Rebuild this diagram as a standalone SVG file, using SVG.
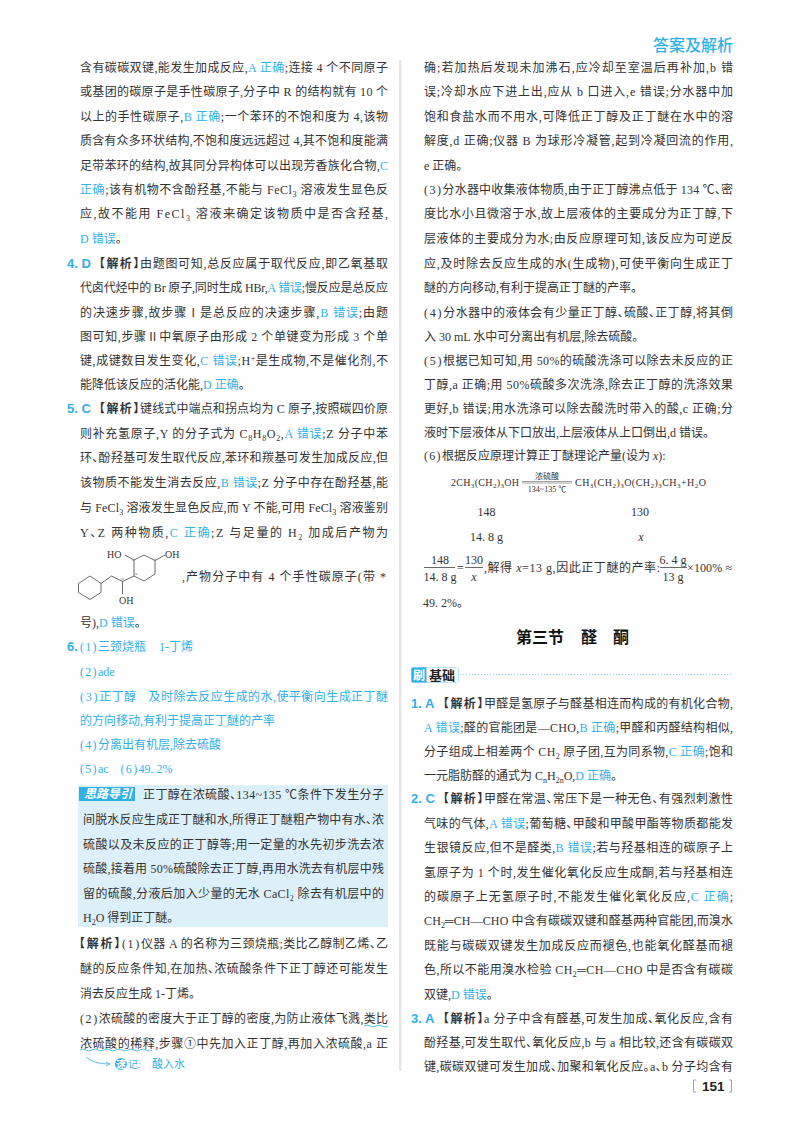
<svg xmlns="http://www.w3.org/2000/svg" width="800" height="1132" viewBox="0 0 800 1132">
<style>
text{font-family:"Liberation Serif","Noto Sans CJK SC",serif;font-size:12px;fill:#333;font-feature-settings:"halt"}
.b,tspan.b{fill:#2fb1e8}
.s{font-size:8px;baseline-shift:-2.5px}
.u{font-size:8px;baseline-shift:4px}
.i{font-style:italic}
.p{letter-spacing:1.3px}
.n{font-family:"Liberation Sans","Noto Sans CJK SC",sans-serif;font-weight:700;font-size:13px;fill:#2fb1e8}
.j{font-family:"Liberation Sans","Noto Sans CJK SC",sans-serif;font-weight:700;font-size:12px;fill:#333;letter-spacing:1.4px}
.e{font-size:10px}
.e .s{font-size:7px;baseline-shift:-2px}
.m{font-size:8px}
.a{font-size:10px}
.st{font-size:7px;fill:#888}
.ln{fill:none;stroke:#444;stroke-width:.8}
.w{fill:none;stroke:#2fb1e8;stroke-width:.8}
</style>
<rect width="800" height="1132" fill="#fff"/>
<rect x="399" y="60" width="2.5" height="1011" fill="#e6e6e6"/>
<text id="header" x="653" y="51" style="font-family:'Noto Sans CJK SC',sans-serif;font-size:16px;fill:#2fb1e8;font-weight:500">答案及解析</text>

<g id="left-column">
<text x="80" y="71.500" textLength="308">含有碳碳双键,能发生加成反应,<tspan class="b">A 正确</tspan>;连接 4 个不同原子</text>
<text x="80" y="95.500" textLength="308">或基团的碳原子是手性碳原子,分子中 R 的结构就有 10 个</text>
<text x="80" y="120.500" textLength="308">以上的手性碳原子,<tspan class="b">B 正确</tspan>;一个苯环的不饱和度为 4,该物</text>
<text x="80" y="144.500" textLength="308">质含有众多环状结构,不饱和度远远超过 4,其不饱和度能满</text>
<text x="80" y="169.500" textLength="308">足带苯环的结构,故其同分异构体可以出现芳香族化合物,<tspan class="b">C</tspan></text>
<text x="80" y="193.500" textLength="308"><tspan class="b">正确</tspan>;该有机物不含酚羟基,不能与 FeCl<tspan class="s">3</tspan> 溶液发生显色反</text>
<text x="80" y="217.500" textLength="308">应,故不能用 FeCl<tspan class="s">3</tspan> 溶液来确定该物质中是否含羟基,</text>
<text x="80" y="242.500"><tspan class="b">D 错误</tspan>。</text>

<text class="n" x="67" y="267.500">4. D</text><text class="j" x="99" y="267.500">【解析】</text>
<text x="140" y="267.500" textLength="248">由题图可知,总反应属于取代反应,即乙氧基取</text>
<text x="80" y="291.500" textLength="308">代卤代烃中的 Br 原子,同时生成 HBr,<tspan class="b">A 错误</tspan>;慢反应是总反应</text>
<text x="80" y="316.500" textLength="308">的决速步骤,故步骤Ⅰ是总反应的决速步骤,<tspan class="b">B 错误</tspan>;由题</text>
<text x="80" y="340.500" textLength="308">图可知,步骤Ⅱ中氧原子由形成 2 个单键变为形成 3 个单</text>
<text x="80" y="364.500" textLength="308">键,成键数目发生变化,<tspan class="b">C 错误</tspan>;H<tspan class="u">+</tspan>是生成物,不是催化剂,不</text>
<text x="80" y="388.500">能降低该反应的活化能,<tspan class="b">D 正确</tspan>。</text>

<text class="n" x="67" y="412.500">5. C</text><text class="j" x="99" y="412.500">【解析】</text>
<text x="140" y="412.500" textLength="248">键线式中端点和拐点均为 C 原子,按照碳四价原</text>
<text x="80" y="437.500" textLength="308">则补充氢原子,Y 的分子式为 C<tspan class="s">8</tspan>H<tspan class="s">8</tspan>O<tspan class="s">2</tspan>,<tspan class="b">A 错误</tspan>;Z 分子中苯</text>
<text x="80" y="461.500" textLength="308">环、酚羟基可发生取代反应,苯环和羰基可发生加成反应,但</text>
<text x="80" y="486.500" textLength="308">该物质不能发生消去反应,<tspan class="b">B 错误</tspan>;Z 分子中存在酚羟基,能</text>
<text x="80" y="511.500" textLength="308">与 FeCl<tspan class="s">3</tspan> 溶液发生显色反应,而 Y 不能,可用 FeCl<tspan class="s">3</tspan> 溶液鉴别</text>
<text x="80" y="536.500" textLength="308">Y、Z 两种物质,<tspan class="b">C 正确</tspan>;Z 与足量的 H<tspan class="s">2</tspan> 加成后产物为</text>
<g id="molecule">
<path class="ln" d="M78.500 583.500L90 576L101 583.500V592.500L90 599.500L78.500 592.500ZM101 583.500L111.500 576L122.500 581.500L134 576V560L144 555L155 560.500V574L144 581L134 576M122.500 581.500V594M134 560L125 555M155 560.500L165 555"/>
<text class="a" x="107" y="558">HO</text>
<text class="a" x="165" y="558">OH</text>
<text class="a" x="119" y="603.500">OH</text>
<text class="st" x="131.500" y="563">*</text>
<text class="st" x="153" y="563">*</text>
<text class="st" x="134.500" y="577">*</text>
<text class="st" x="120.500" y="582">*</text>
</g>
<text x="182" y="580.500" textLength="204">,产物分子中有 4 个手性碳原子(带 *</text>
<text x="80" y="626.500">号),<tspan class="b">D 错误</tspan>。</text>

<text class="n" x="67" y="650.500">6.</text>
<text class="b" x="80" y="650.500"><tspan class="p">(1)</tspan>三颈烧瓶<tspan dx="13">1-丁烯</tspan></text>
<text class="b" x="80" y="675.500"><tspan class="p">(2)</tspan>ade</text>
<text class="b" x="80" y="700.500" textLength="308"><tspan class="p">(3)</tspan>正丁醇<tspan dx="12">及时除去反应生成的水,使平衡向生成正丁醚</tspan></text>
<text class="b" x="80" y="724.500">的方向移动,有利于提高正丁醚的产率</text>
<text class="b" x="80" y="748.500"><tspan class="p">(4)</tspan>分离出有机层,除去硫酸</text>
<text class="b" x="80" y="772.500"><tspan class="p">(5)</tspan>ac<tspan class="p" dx="12">(6)</tspan>49. 2%</text>

<g id="hint-box">
<rect x="78" y="785" width="310" height="142" fill="#dcf0fa"/>
<rect x="79" y="787" width="56" height="14" fill="#2fb1e8"/>
<text x="84" y="798" style="font-family:'Noto Sans CJK SC',sans-serif;font-size:12px;font-weight:700;font-style:italic;fill:#fff">思路导引</text>
<text x="143" y="798.500" textLength="241">正丁醇在浓硫酸、134~135 ℃条件下发生分子</text>
<text x="83" y="823.500" textLength="301">间脱水反应生成正丁醚和水,所得正丁醚粗产物中有水、浓</text>
<text x="83" y="848.500" textLength="301">硫酸以及未反应的正丁醇等;用一定量的水先初步洗去浓</text>
<text x="83" y="872.500" textLength="301">硫酸,接着用 50%硫酸除去正丁醇,再用水洗去有机层中残</text>
<text x="83" y="897.500" textLength="301">留的硫酸,分液后加入少量的无水 CaCl<tspan class="s">2</tspan> 除去有机层中的</text>
<text x="83" y="921.500">H<tspan class="s">2</tspan>O 得到正丁醚。</text>
</g>

<text x="79" y="947.500" textLength="309"><tspan class="j">【解析】</tspan><tspan class="p">(1)</tspan>仪器 A 的名称为三颈烧瓶;类比乙醇制乙烯、乙</text>
<text x="80" y="972.500" textLength="308">醚的反应条件知,在加热、浓硫酸条件下正丁醇还可能发生</text>
<text x="80" y="997.500">消去反应生成 1-丁烯。</text>
<text x="80" y="1022.500" textLength="308"><tspan class="p">(2)</tspan>浓硫酸的密度大于正丁醇的密度,为防止液体飞溅,类比</text>
<text x="80" y="1047.500" textLength="308">浓硫酸的稀释,步骤①中先加入正丁醇,再加入浓硫酸,a 正</text>
<g id="note">
<path class="w" d="M364 1026q3 -2 6 0t6 0t6 0t6 0"/>
<path class="w" d="M80 1050q3 -2 6 0t6 0t6 0t6 0t6 0t6 0t6 0t6 0t6 0t6 0t6 0t6 0"/>
<path class="w" d="M86 1057Q94 1064 109 1064M106 1062L110 1064L106 1066"/>
<circle cx="121" cy="1064" r="6" fill="#2fb1e8"/>
<text x="116" y="1068" style="font-size:10px;fill:#fff;font-weight:700">速</text>
<text class="b" x="128" y="1068" style="font-size:10px">记:</text>
<text class="b" x="152" y="1068" style="font-size:11px">酸入水</text>
</g>
</g>

<g id="right-column">
<text x="424" y="71.500" textLength="309">确;若加热后发现未加沸石,应冷却至室温后再补加,b 错</text>
<text x="424" y="95.500" textLength="309">误;冷却水应下进上出,应从 b 口进入,e 错误;分水器中加</text>
<text x="424" y="120.500" textLength="309">饱和食盐水而不用水,可降低正丁醇及正丁醚在水中的溶</text>
<text x="424" y="144.500" textLength="309">解度,d 正确;仪器 B 为球形冷凝管,起到冷凝回流的作用,</text>
<text x="424" y="169.500">e 正确。</text>
<text x="424" y="193.500" textLength="309"><tspan class="p">(3)</tspan>分水器中收集液体物质,由于正丁醇沸点低于 134 ℃、密</text>
<text x="424" y="217.500" textLength="309">度比水小且微溶于水,故上层液体的主要成分为正丁醇,下</text>
<text x="424" y="242.500" textLength="309">层液体的主要成分为水;由反应原理可知,该反应为可逆反</text>
<text x="424" y="267.500" textLength="309">应,及时除去反应生成的水(生成物),可使平衡向生成正丁</text>
<text x="424" y="291.500">醚的方向移动,有利于提高正丁醚的产率。</text>
<text x="424" y="316.500" textLength="309"><tspan class="p">(4)</tspan>分水器中的液体会有少量正丁醇、硫酸、正丁醇,将其倒</text>
<text x="424" y="340.500">入 30 mL 水中可分离出有机层,除去硫酸。</text>
<text x="424" y="364.500" textLength="309"><tspan class="p">(5)</tspan>根据已知可知,用 50%的硫酸洗涤可以除去未反应的正</text>
<text x="424" y="388.500" textLength="309">丁醇,a 正确;用 50%硫酸多次洗涤,除去正丁醇的洗涤效果</text>
<text x="424" y="412.500" textLength="309">更好,b 错误;用水洗涤可以除去酸洗时带入的酸,c 正确;分</text>
<text x="424" y="436.500">液时下层液体从下口放出,上层液体从上口倒出,d 错误。</text>
<text x="424" y="459.500"><tspan class="p">(6)</tspan>根据反应原理计算正丁醚理论产量(设为 <tspan class="i">x</tspan>):</text>

<g id="equation">
<text class="e" x="451" y="486" textLength="68">2CH<tspan class="s">3</tspan>(CH<tspan class="s">2</tspan>)<tspan class="s">3</tspan>OH</text>
<path class="ln" style="stroke-width:.5" d="M522 481.500H572M522 483H572"/>
<text class="m" x="547" y="479" text-anchor="middle">浓硫酸</text>
<text class="m" x="547" y="492" text-anchor="middle">134~135 ℃</text>
<text class="e" x="575" y="486" textLength="131">CH<tspan class="s">3</tspan>(CH<tspan class="s">2</tspan>)<tspan class="s">3</tspan>O(CH<tspan class="s">2</tspan>)<tspan class="s">3</tspan>CH<tspan class="s">3</tspan>+H<tspan class="s">2</tspan>O</text>
<text x="486.500" y="516" text-anchor="middle">148</text>
<text x="640" y="516" text-anchor="middle">130</text>
<text x="486.500" y="541" text-anchor="middle">14. 8 g</text>
<text class="i" x="641" y="541" text-anchor="middle">x</text>
<text x="440" y="564" text-anchor="middle">148</text>
<text x="440" y="581" text-anchor="middle">14. 8 g</text>
<path class="ln" d="M424 567.500H455M465 567.500H483M660 567.500H687"/>
<text x="457" y="572">=</text>
<text x="474" y="564" text-anchor="middle">130</text>
<text class="i" x="474" y="581" text-anchor="middle">x</text>
<text x="484" y="572" textLength="176">,解得 <tspan class="i">x</tspan>=13 g,因此正丁醚的产率:</text>
<text x="673" y="564" text-anchor="middle">6. 4 g</text>
<text x="673" y="581" text-anchor="middle">13 g</text>
<text x="687" y="572" textLength="45">×100% ≈</text>
<text x="423" y="606.500">49. 2%。</text>
</g>

<g id="section-title" style="font-weight:700">
<text x="516" y="643" style="font-family:'Noto Sans CJK SC',sans-serif;font-size:16px;font-weight:700;fill:#111">第三节</text>
<text x="581" y="643" style="font-family:'Noto Sans CJK SC',sans-serif;font-size:16px;font-weight:700;fill:#111">醛</text>
<text x="613" y="643" style="font-family:'Noto Sans CJK SC',sans-serif;font-size:16px;font-weight:700;fill:#111">酮</text>
</g>
<g id="section-tag">
<rect x="411.500" y="667.500" width="47" height="15" rx="2" fill="#fff" stroke="#a8dcf3" stroke-width=".8"/>
<rect x="411.500" y="667.500" width="15" height="15" fill="#2fb1e8"/>
<text x="413" y="679.500" style="font-family:'Noto Sans CJK SC',sans-serif;font-size:12px;font-weight:700;fill:#fff">刷</text>
<text x="429" y="679.500" style="font-family:'Noto Sans CJK SC',sans-serif;font-size:13px;font-weight:700;fill:#222">基础</text>
<path d="M460 674.500H731" fill="none" stroke="#8fd3f1" stroke-width="1" stroke-dasharray="1 2"/>
</g>

<text class="n" x="411" y="707.500">1. A</text><text class="j" x="443" y="707.500">【解析】</text>
<text x="484" y="707.500" textLength="249">甲醛是氢原子与醛基相连而构成的有机化合物,</text>
<text x="424" y="731.500" textLength="309"><tspan class="b">A 错误</tspan>;醛的官能团是—CHO,<tspan class="b">B 正确</tspan>;甲醛和丙醛结构相似,</text>
<text x="424" y="755.500" textLength="309">分子组成上相差两个 CH<tspan class="s">2</tspan> 原子团,互为同系物,<tspan class="b">C 正确</tspan>;饱和</text>
<text x="424" y="779.500">一元脂肪醛的通式为 C<tspan class="s">n</tspan>H<tspan class="s">2n</tspan>O,<tspan class="b">D 正确</tspan>。</text>

<text class="n" x="411" y="802.500">2. C</text><text class="j" x="443" y="802.500">【解析】</text>
<text x="484" y="802.500" textLength="249">甲醛在常温、常压下是一种无色、有强烈刺激性</text>
<text x="424" y="827.500" textLength="309">气味的气体,<tspan class="b">A 错误</tspan>;葡萄糖、甲酸和甲酸甲酯等物质都能发</text>
<text x="424" y="851.500" textLength="309">生银镜反应,但不是醛类,<tspan class="b">B 错误</tspan>;若与羟基相连的碳原子上</text>
<text x="424" y="876.500" textLength="309">氢原子为 1 个时,发生催化氧化反应生成酮,若与羟基相连</text>
<text x="424" y="900.500" textLength="309">的碳原子上无氢原子时,不能发生催化氧化反应,<tspan class="b">C 正确</tspan>;</text>
<text x="424" y="924.500" textLength="309">CH<tspan class="s">2</tspan>═CH—CHO 中含有碳碳双键和醛基两种官能团,而溴水</text>
<text x="424" y="949.500" textLength="309">既能与碳碳双键发生加成反应而褪色,也能氧化醛基而褪</text>
<text x="424" y="973.500" textLength="309">色,所以不能用溴水检验 CH<tspan class="s">2</tspan>═CH—CHO 中是否含有碳碳</text>
<text x="424" y="998.500">双键,<tspan class="b">D 错误</tspan>。</text>

<text class="n" x="411" y="1022.500">3. A</text><text class="j" x="443" y="1022.500">【解析】</text>
<text x="484" y="1022.500" textLength="249">a 分子中含有醛基,可发生加成、氧化反应,含有</text>
<text x="424" y="1046.500" textLength="309">酚羟基,可发生取代、氧化反应,b 与 a 相比较,还含有碳碳双</text>
<text x="424" y="1070.500" textLength="309">键,碳碳双键可发生加成、加聚和氧化反应。a、b 分子均含有</text>
</g>

<g id="page-number">
<path d="M696 1080H693.500V1092H696M729 1080H731.500V1092H729" fill="none" stroke="#888" stroke-width=".8"/>
<text x="702" y="1091" style="font-family:'Liberation Sans',sans-serif;font-size:13.500px;font-weight:700;fill:#222">151</text>
</g>
</svg>
